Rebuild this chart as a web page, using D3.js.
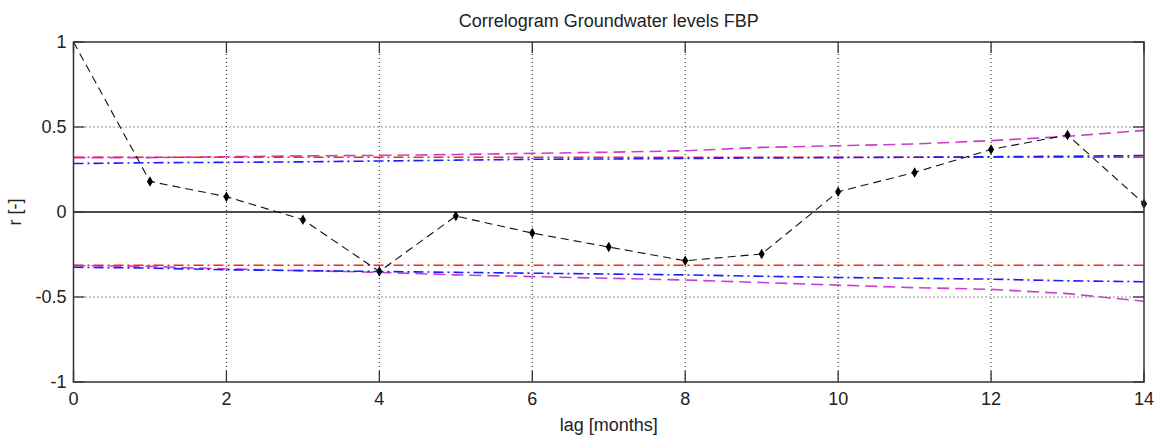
<!DOCTYPE html>
<html>
<head>
<meta charset="utf-8">
<script src="https://cdn.jsdelivr.net/npm/d3@7"></script>
<style>
  body { margin: 0; background: #fff; }
  text { font-family: Arial, "Liberation Sans", sans-serif; fill: #222; }
</style>
</head>
<body>
<div id="chart"></div>
<script>
// lags 0..14
const lags = [0,1,2,3,4,5,6,7,8,9,10,11,12,13,14];
// sample autocorrelation
const acf = [1, 0.18, 0.09, -0.045, -0.35, -0.024, -0.124, -0.206, -0.287, -0.247, 0.119, 0.233, 0.368, 0.453, 0.049];
// confidence bounds
const redUpper  = [0.322,0.322,0.322,0.322,0.322,0.322,0.322,0.322,0.322,0.322,0.322,0.322,0.322,0.322,0.322];
const redLower  = [-0.313,-0.313,-0.313,-0.313,-0.313,-0.313,-0.313,-0.313,-0.313,-0.313,-0.313,-0.313,-0.313,-0.313,-0.313];
const blueUpper = [0.285,0.29,0.292,0.295,0.3,0.305,0.31,0.312,0.315,0.318,0.32,0.322,0.325,0.328,0.332];
const blueLower = [-0.325,-0.33,-0.34,-0.345,-0.35,-0.355,-0.36,-0.365,-0.37,-0.378,-0.385,-0.39,-0.395,-0.405,-0.41];
const magUpper  = [0.32,0.32,0.325,0.33,0.333,0.338,0.345,0.352,0.36,0.38,0.39,0.40,0.42,0.445,0.48];
const magLower  = [-0.315,-0.32,-0.335,-0.345,-0.355,-0.37,-0.38,-0.39,-0.40,-0.415,-0.43,-0.445,-0.455,-0.48,-0.525];

const xTicks = [0,2,4,6,8,10,12,14];
const yTicks = [-1,-0.5,0,0.5,1];

const W = 1157, H = 440;
const pLeft = 73.5, pRight = 1144, pTop = 42, pBottom = 382;

const svg = d3.select('#chart').append('svg')
    .attr('width', W)
    .attr('height', H);

const x = d3.scaleLinear().domain([0,14]).range([pLeft,pRight]);
const y = d3.scaleLinear().domain([-1,1]).range([pBottom,pTop]);

// dotted grid
svg.selectAll('.gx').data(xTicks.filter(d => d > 0 && d < 14)).enter().append('line')
    .attr('x1', d => x(d)).attr('x2', d => x(d))
    .attr('y1', pTop).attr('y2', pBottom)
    .style('stroke', '#222').style('stroke-width', 1).style('stroke-dasharray', '1,3');
svg.selectAll('.gy').data(yTicks.filter(d => Math.abs(d) === 0.5)).enter().append('line')
    .attr('x1', pLeft).attr('x2', pRight)
    .attr('y1', d => y(d)).attr('y2', d => y(d))
    .style('stroke', '#222').style('stroke-width', 1).style('stroke-dasharray', '1,3');

// zero line
svg.append('line')
    .attr('x1', pLeft).attr('x2', pRight)
    .attr('y1', y(0)).attr('y2', y(0))
    .style('stroke', '#111').style('stroke-width', 1.3);

const line = vals => d3.line().x((d,i) => x(lags[i])).y(d => y(d))(vals);

const bounds = [
    {vals: magUpper, color: '#c93fcc', dash: '12,6'},
    {vals: magLower, color: '#c93fcc', dash: '12,6'},
    {vals: redUpper, color: '#ff2020', dash: '10,4,2,4'},
    {vals: redLower, color: '#ff2020', dash: '10,4,2,4'},
    {vals: blueUpper, color: '#1a1aff', dash: '10,4,2,4'},
    {vals: blueLower, color: '#1a1aff', dash: '10,4,2,4'}
];
svg.selectAll('.bound').data(bounds).enter().append('path')
    .attr('class', 'bound')
    .attr('d', d => line(d.vals))
    .style('fill', 'none')
    .style('stroke', d => d.color)
    .style('stroke-width', 1.6)
    .style('stroke-dasharray', d => d.dash);

// acf
svg.append('path')
    .attr('d', line(acf))
    .style('fill', 'none')
    .style('stroke', '#111')
    .style('stroke-width', 1.1)
    .style('stroke-dasharray', '8,5');

svg.selectAll('.pt').data(acf.slice(1)).enter().append('path')
    .attr('d', d3.symbol().type(d3.symbolDiamond).size(32))
    .attr('transform', (d,i) => `translate(${x(lags[i+1])},${y(d)})`)
    .style('fill', '#000');

// box
svg.append('rect')
    .attr('x', pLeft).attr('y', pTop)
    .attr('width', pRight - pLeft).attr('height', pBottom - pTop)
    .style('fill', 'none').style('stroke', '#333').style('stroke-width', 1.5);

// ticks inside, top and bottom / left and right
const tl = 11;
xTicks.forEach(t => {
    svg.append('line').attr('x1', x(t)).attr('x2', x(t)).attr('y1', pBottom).attr('y2', pBottom - tl)
        .style('stroke', '#333').style('stroke-width', 1.3);
    svg.append('line').attr('x1', x(t)).attr('x2', x(t)).attr('y1', pTop).attr('y2', pTop + tl)
        .style('stroke', '#333').style('stroke-width', 1.3);
});
yTicks.forEach(t => {
    svg.append('line').attr('x1', pLeft).attr('x2', pLeft + tl).attr('y1', y(t)).attr('y2', y(t))
        .style('stroke', '#333').style('stroke-width', 1.3);
    svg.append('line').attr('x1', pRight).attr('x2', pRight - tl).attr('y1', y(t)).attr('y2', y(t))
        .style('stroke', '#333').style('stroke-width', 1.3);
});

// tick labels
svg.selectAll('.xl').data(xTicks).enter().append('text')
    .attr('x', d => x(d)).attr('y', pBottom + 23)
    .attr('text-anchor', 'middle')
    .style('font-size', '18px')
    .text(d => d);
svg.selectAll('.yl').data(yTicks).enter().append('text')
    .attr('x', pLeft - 7).attr('y', d => y(d))
    .attr('dy', '0.36em')
    .attr('text-anchor', 'end')
    .style('font-size', '18px')
    .text(d => d);

// titles
svg.append('text')
    .attr('x', (pLeft + pRight) / 2).attr('y', 27)
    .attr('text-anchor', 'middle')
    .style('font-size', '18px')
    .text('Correlogram Groundwater levels FBP');
svg.append('text')
    .attr('x', (pLeft + pRight) / 2).attr('y', 431)
    .attr('text-anchor', 'middle')
    .style('font-size', '18px')
    .text('lag [months]');
svg.append('text')
    .attr('transform', `translate(21,${y(0)}) rotate(-90)`)
    .attr('text-anchor', 'middle')
    .style('font-size', '18px')
    .text('r [-]');
</script>
</body>
</html>
